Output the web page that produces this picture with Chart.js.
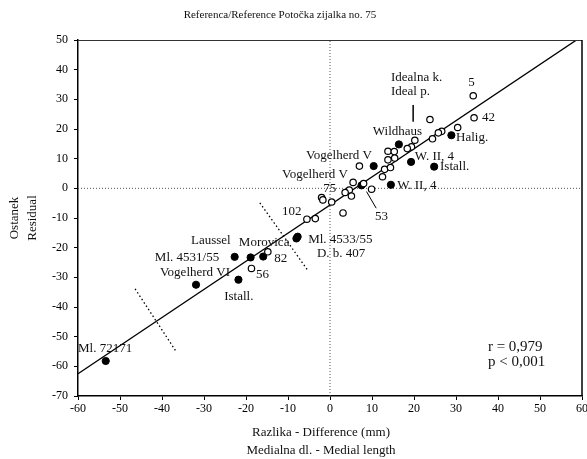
<!DOCTYPE html>
<html>
<head>
<meta charset="utf-8">
<script src="https://cdn.jsdelivr.net/npm/chart.js@4"></script>
<style>
  body { margin: 0; background: #fff; }
  canvas { display: block; }
</style>
</head>
<body>
<canvas id="resid-chart" width="587" height="459"></canvas>
<script>
/* Potočka zijalka no. 75 - ostanek / residual */
const xTicks = [-60, -50, -40, -30, -20, -10, 0, 10, 20, 30, 40, 50, 60];
const yTicks = [-70, -60, -50, -40, -30, -20, -10, 0, 10, 20, 30, 40, 50];

// odprti krogi
const openX = [34.1, 34.3, 23.8, 30.4, 26.6, 25.8, 24.4, 20.2, 19.4, 18.4, 13.8, 15.3, 13.8, 15.4, 7.0, 13.0,
  14.4, 12.5, 5.5, 8.0, 9.9, 4.6, 3.6, 5.1, 0.4, -2.0, -1.7, 3.1, -5.5, -3.5, -14.8, -18.7];
const openY = [31.2, 23.8, 23.2, 20.5, 19.2, 18.7, 16.7, 16.2, 14.0, 13.4, 12.5, 12.4, 9.6, 10.2, 7.5, 6.4,
  7.0, 3.9, 2.0, 1.6, -0.3, -0.6, -1.4, -2.6, -4.6, -3.1, -3.9, -8.3, -10.4, -10.2, -21.4, -27.0];

// polni krogi
const filledX = [28.9, 16.4, 19.3, 24.8, 10.4, 7.5, 14.5, -7.7, -8.0, -15.9, -18.9, -22.7, -21.8, -31.9, -53.4];
const filledY = [17.9, 14.8, 8.9, 7.3, 7.5, 1.0, 1.2, -16.3, -16.9, -23.0, -23.3, -23.1, -30.8, -32.5, -58.2];

// regresijska premica
const lineX = [-60, 58.7];
const lineY = [-62.5, 50];

// pikčaste meje
const cut1X = [-46.4, -36.5];
const cut1Y = [-33.9, -55.3];
const cut2X = [-16.7, -5.4];
const cut2Y = [-4.9, -27.4];

// kazalne črte
const leadIdealX = [19.8, 19.8];
const leadIdealY = [28.1, 22.5];
const lead53X = [8.7, 11.0];
const lead53Y = [-1.1, -6.7];

// napisi: [tekst, x, y]
const pointLabels = [
  ['Idealna k.', 14.5, 37.5],
  ['Ideal p.', 14.5, 32.5],
  ['5', 32.9, 35.5],
  ['42', 36.2, 23.7],
  ['Halig.', 30.0, 17.0],
  ['Wildhaus', 10.2, 19.0],
  ['W. II, 4', 20.2, 10.6],
  ['Istall.', 26.2, 7.2],
  ['Vogelherd V', -5.7, 10.9],
  ['Vogelherd V', -11.4, 4.5],
  ['75', -1.6, -0.2],
  ['W. II, 4', 16.0, 0.8],
  ['53', 10.7, -9.6],
  ['102', -11.4, -7.9],
  ['Ml. 4533/55', -5.2, -17.3],
  ['D. b. 407', -3.1, -22.1],
  ['Laussel', -33.1, -17.7],
  ['Morovica', -21.7, -18.4],
  ['Ml. 4531/55', -41.7, -23.4],
  ['82', -13.3, -23.7],
  ['Vogelherd VI', -40.5, -28.5],
  ['56', -17.6, -29.1],
  ['Istall.', -25.2, -36.5],
  ['Ml. 72171', -60, -54.0],
];
const statLabels = [
  ['r = 0,979', 37.6, -53.4],
  ['p < 0,001', 37.6, -58.7],
];

const FONT = '"Liberation Serif", "DejaVu Serif", serif';

function pts(xs, ys) {
  return xs.map((x, i) => ({ x: x, y: ys[i] }));
}

function lineSet(xs, ys, opts) {
  return Object.assign({
    type: 'line',
    data: pts(xs, ys),
    showLine: true,
    pointRadius: 0,
    borderColor: '#000',
    borderWidth: 1.2,
    fill: false,
    order: 2
  }, opts);
}

const textPlugin = {
  id: 'textPlugin',
  afterDatasetsDraw(chart) {
    const ctx = chart.ctx;
    const xs = chart.scales.x, ys = chart.scales.y;
    const a = chart.chartArea;
    ctx.save();
    // okvir zgoraj in desno
    ctx.strokeStyle = '#333';
    ctx.lineWidth = 1;
    ctx.beginPath();
    ctx.moveTo(a.left, a.top + 0.5);
    ctx.lineTo(a.right, a.top + 0.5);
    ctx.stroke();
    ctx.strokeStyle = '#000';
    ctx.lineWidth = 1.5;
    ctx.beginPath();
    ctx.moveTo(a.right, a.top);
    ctx.lineTo(a.right, a.bottom);
    ctx.stroke();

    ctx.fillStyle = '#111';
    ctx.textBaseline = 'middle';
    ctx.textAlign = 'left';
    ctx.font = '13px ' + FONT;
    pointLabels.forEach(l => {
      ctx.fillText(l[0], xs.getPixelForValue(l[1]), ys.getPixelForValue(l[2]));
    });
    ctx.font = '15px ' + FONT;
    statLabels.forEach(l => {
      ctx.fillText(l[0], xs.getPixelForValue(l[1]), ys.getPixelForValue(l[2]));
    });

    // naslovi
    ctx.textAlign = 'center';
    ctx.font = '11px ' + FONT;
    ctx.fillText('Referenca/Reference Potočka zijalka no. 75', 280, 15);
    ctx.font = '13px ' + FONT;
    ctx.fillText('Razlika - Difference (mm)', 321, 433);
    ctx.fillText('Medialna dl. - Medial length', 321, 451);
    const cy = (a.top + a.bottom) / 2;
    ctx.translate(15, cy);
    ctx.rotate(-Math.PI / 2);
    ctx.fillText('Ostanek', 0, 0);
    ctx.fillText('Residual', 0, 18);
    ctx.restore();
  }
};

const config = {
  type: 'scatter',
  data: {
    datasets: [
      {
        label: 'odprti',
        data: pts(openX, openY),
        pointRadius: 3.2,
        pointHoverRadius: 3.2,
        backgroundColor: '#fff',
        borderColor: '#000',
        borderWidth: 1.2,
        order: 0
      },
      {
        label: 'polni',
        data: pts(filledX, filledY),
        pointRadius: 3.6,
        pointHoverRadius: 3.6,
        backgroundColor: '#000',
        borderColor: '#000',
        borderWidth: 1,
        order: 0
      },
      lineSet(lineX, lineY, { label: 'premica', borderWidth: 1.4 }),
      lineSet([-60, 60], [0, 0], { label: 'y0', borderColor: '#555', borderWidth: 1, borderDash: [1, 2], order: 3 }),
      lineSet([0, 0], [-70, 50], { label: 'x0', borderColor: '#555', borderWidth: 1, borderDash: [1, 2], order: 3 }),
      lineSet(cut1X, cut1Y, { label: 'meja1', borderWidth: 1.3, borderDash: [1.5, 2.5] }),
      lineSet(cut2X, cut2Y, { label: 'meja2', borderWidth: 1.3, borderDash: [1.5, 2.5] }),
      lineSet(leadIdealX, leadIdealY, { label: 'k1', borderWidth: 0.8 }),
      lineSet(lead53X, lead53Y, { label: 'k2', borderWidth: 1 })
    ]
  },
  options: {
    responsive: false,
    animation: false,
    events: [],
    layout: {
      padding: { top: 40, right: 5, bottom: 0, left: 0 }
    },
    plugins: {
      legend: { display: false },
      tooltip: { enabled: false },
      title: { display: false }
    },
    scales: {
      x: {
        type: 'linear',
        min: -60,
        max: 60,
        afterBuildTicks: s => { s.ticks = xTicks.map(v => ({ value: v })); },
        afterFit: s => { s.height = 63; s.paddingLeft = 0; s.paddingRight = 0; },
        grid: { drawOnChartArea: false, drawTicks: true, tickLength: 4, color: '#000' },
        border: { color: '#000', width: 1.5 },
        ticks: { color: '#000', padding: 2, font: { family: FONT, size: 12 }, maxRotation: 0 }
      },
      y: {
        type: 'linear',
        min: -70,
        max: 50,
        afterBuildTicks: s => { s.ticks = yTicks.map(v => ({ value: v })); },
        afterFit: s => { s.width = 78; s.paddingTop = 0; s.paddingBottom = 0; },
        grid: { drawOnChartArea: false, drawTicks: true, tickLength: 4, color: '#000' },
        border: { color: '#000', width: 1.5 },
        ticks: { color: '#000', padding: 6, font: { family: FONT, size: 12 } }
      }
    }
  },
  plugins: [textPlugin]
};

const residChart = new Chart(document.getElementById('resid-chart'), config);
</script>
</body>
</html>
